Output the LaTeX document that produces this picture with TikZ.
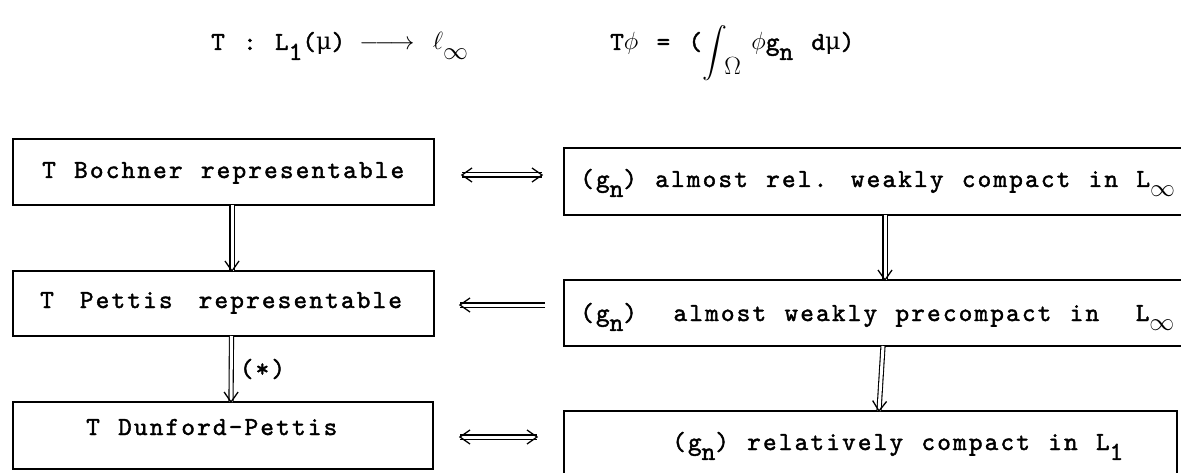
\documentclass[tikz,border=0pt]{standalone}
\usepackage{amsmath}
\usepackage{fontspec}
\newfontfamily\tw{lmmono10-regular.otf}[LetterSpace=8.3, WordSpace=1.157, FakeBold=1.6]
\newfontfamily\gr{DejaVu Serif}[Scale=0.92]
\usetikzlibrary{arrows.meta,calc,decorations.markings}
\newcommand\lowered[1]{\raisebox{-0.38em}{#1}}
\newcommand\mugr{{\gr μ}}
\begin{document}
\begin{tikzpicture}[x=1pt,y=-1pt,
  box/.style={draw, line width=1.7pt, inner sep=0pt, outer sep=0pt},
  lbl/.style={font=\fontsize{26}{31}\tw, inner sep=0pt, anchor=base west},
  imp/.style={double, double distance=3pt, line width=1.1pt},
  tipend/.style={postaction={decorate,decoration={markings,mark=at position 1 with {\draw[line width=1.3pt] (-10pt,7pt) -- (0pt,0pt) -- (-10pt,-7pt);}}}},
  tipstart/.style={postaction={decorate,decoration={markings,mark=at position 0 with {\draw[line width=1.3pt] (10pt,7pt) -- (0pt,0pt) -- (10pt,-7pt);}}}},
]
\useasboundingbox[fill=white] (0,0) rectangle (1181,473);

\node[box, minimum width=421pt, minimum height=66pt] (L1) at (223.5,172) {};
\node[box, minimum width=421pt, minimum height=65pt] (L2) at (223.5,303.5) {};
\node[box, minimum width=420pt, minimum height=67pt] (L3) at (223,435.5) {};
\node[box, minimum width=621pt, minimum height=67pt] (R1) at (874.5,181.5) {};
\node[box, minimum width=621pt, minimum height=66pt] (R2) at (874.5,313) {};
\node[box, minimum width=613pt, minimum height=66pt] (R3) at (870.5,444) {};

\node[lbl] (tL1) at (42,178) {T Bochner representable};
\node[lbl] (tL2) at (40,308) {T\kern0.3em{} Pettis\kern0.3em{} representable};
\node[lbl] (tL3) at (86,435) {T Dunford-Pettis};
\node[lbl] (tR1) at (580,187) {(g\lowered{n}) almost rel. weakly compact in L\lowered{$\infty$}};
\node[lbl] (tR2) at (580,321) {(g\lowered{n})~ almost weakly precompact in~ L\lowered{$\infty$}};
\node[lbl] (tR3) at (672,450) {(g\lowered{n}) relatively compact in L\lowered{1}};

\node[lbl] (map) at (211,50) {T : L\lowered{1}(\mugr) $\joinrel\relbar\joinrel\longrightarrow$ $\ell$\lowered{$\infty$}};
\node[lbl] (def) at (610,50) {T$\phi$ = (\raisebox{-9pt}{$\displaystyle\int$}\kern-0.1em\raisebox{-0.95em}{$\Omega$}\kern0.4em $\phi$g\lowered{n} d\mugr)};

\draw[imp, tipend] ([shift={(8.5,0)}]L1.south) -- ([shift={(8.5,0)}]L2.north);
\draw[imp, tipend] ([shift={(8,0)}]L2.south) -- node[lbl, anchor=west, xshift=8pt] (star) {(*)} ([shift={(8,0)}]L3.north);
\draw[imp, tipend] ([shift={(10.5,0)}]R1.south) -- ([shift={(10.5,0)}]R2.north);
\draw[imp, tipend] ([shift={(8.5,0)}]R2.south) -- ([shift={(8.5,0)}]R3.north);

\draw[imp, tipstart, tipend] ([shift={(28,3)}]L1.east) -- ([shift={(-22,-6.5)}]R1.west);
\draw[imp, tipend] ([shift={(-19,-8)}]R2.west) -- ([shift={(26,1.5)}]L2.east);
\draw[imp, tipstart, tipend] ([shift={(27,1.5)}]L3.east) -- ([shift={(-27,-7)}]R3.west);
\end{tikzpicture}
\end{document}
